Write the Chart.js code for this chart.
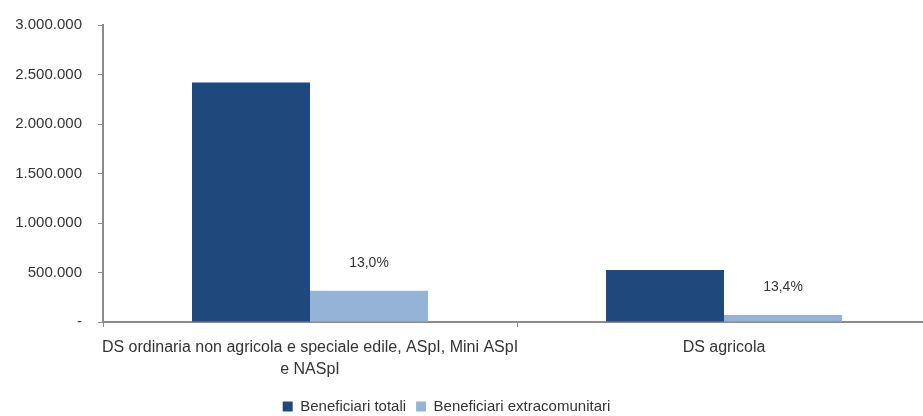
<!DOCTYPE html>
<html>
<head>
<meta charset="utf-8">
<script src="https://cdn.jsdelivr.net/npm/chart.js@4/dist/chart.umd.min.js"></script>
<style>
html,body{margin:0;padding:0;background:#fff;overflow:hidden;}
#wrap{width:940px;height:416px;}
</style>
</head>
<body>
<div id="wrap"><canvas id="chart" width="940" height="416"></canvas></div>
<script>
// ================= DATA =================
const categorie=[
["DS ordinaria non agricola e speciale edile, ASpI, Mini ASpI","e NASpI"],
"DS agricola"
];
const beneficiariTotali=[2420000,525000];
const beneficiariExtra=[315000,70400];
const serieNomi=["Beneficiari totali","Beneficiari extracomunitari"];
const yTicks=[0,500000,1000000,1500000,2000000,2500000,3000000];

const FONT="'Liberation Sans', Arial, sans-serif";
const TXT="#333333";
const AXIS="#8a8a8a";

// 3000000 -> "3.000.000", 0 -> "-"
function fmt(v){
if(v===0) return "-";
return String(v).replace(/\B(?=(\d{3})+(?!\d))/g,".");
}

// percentage of extracomunitari over totals, drawn above the light bars
const pctLabels={
id:"pctLabels",
afterDatasetsDraw(chart){
let ctx=chart.ctx;
let meta=chart.getDatasetMeta(1);
ctx.save();
ctx.font="14px "+FONT;
ctx.fillStyle=TXT;
ctx.textAlign="center";
ctx.textBaseline="middle";
meta.data.forEach((bar,i)=>{
let pct=(beneficiariExtra[i]/beneficiariTotali[i]*100).toFixed(1).replace(".",",");
ctx.fillText(pct+"%",bar.x,bar.y-28);
});
ctx.restore();
}
};

// nudge the legend a bit left and down
const legendShift={
id:"legendShift",
afterLayout(chart){
let lg=chart.legend;
if(!lg) return;
lg.left-=19; lg.right-=19;
lg.top+=8; lg.bottom+=8;
}
};

let ctx=document.getElementById("chart").getContext("2d");
new Chart(ctx,{
type:"bar",
data:{
labels:categorie,
datasets:[
{label:serieNomi[0],data:beneficiariTotali,backgroundColor:"#1f497d"},
{label:serieNomi[1],data:beneficiariExtra,backgroundColor:"#95b3d7"}
]
},
options:{
responsive:false,
animation:false,
devicePixelRatio:1,
layout:{padding:{top:24,right:9,bottom:0,left:0}},
datasets:{bar:{categoryPercentage:0.57,barPercentage:1.0}},
plugins:{
tooltip:{enabled:false},
legend:{
position:"bottom",
labels:{
boxWidth:10,boxHeight:10,padding:10,
color:TXT,
font:{family:FONT,size:15}
}
}
},
scales:{
x:{
offset:true,
grid:{display:true,drawOnChartArea:false,tickLength:5,color:AXIS,lineWidth:1},
border:{display:true,color:AXIS,width:2},
ticks:{
color:TXT,padding:9,maxRotation:0,autoSkip:false,
font:{family:FONT,size:16,lineHeight:1.4}
},
afterFit(s){s.height=59;}
},
y:{
min:0,max:3000000,
grid:{display:true,drawOnChartArea:false,tickLength:5,color:AXIS,lineWidth:1},
border:{display:true,color:AXIS,width:2},
afterBuildTicks(s){s.ticks=yTicks.map(v=>({value:v}));},
ticks:{
color:TXT,padding:16,
font:{family:FONT,size:15},
callback:v=>fmt(v)
},
afterFit(s){s.width=103;}
}
}
},
plugins:[pctLabels,legendShift]
});
</script>
</body>
</html>
